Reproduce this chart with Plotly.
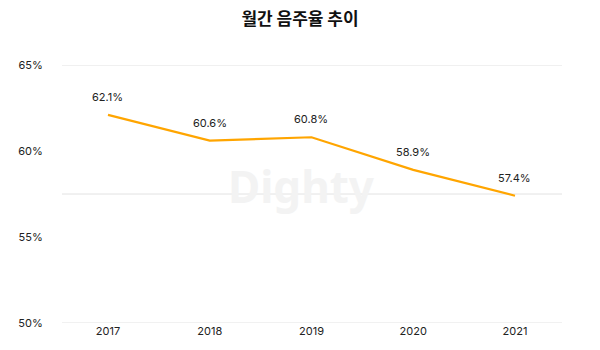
import plotly.graph_objects as go

years = ["2017", "2018", "2019", "2020", "2021"]
rates = [62.1, 60.6, 60.8, 58.9, 57.4]
rate_labels = ["62.1%", "60.6%", "60.8%", "58.9%", "57.4%"]
y_ticks = [50, 55, 60, 65]
y_tick_text = ["50%", "55%", "60%", "65%"]
grid_levels = [50, 57.5, 65]

font_family = "Inter, Liberation Sans, Arial, sans-serif"

fig = go.Figure()
fig.add_trace(go.Scatter(
    x=list(range(len(years))), y=rates, mode="lines",
    line=dict(color="#FFA500", width=2.2),
    hoverinfo="skip", showlegend=False,
))

for i, (v, t) in enumerate(zip(rates, rate_labels)):
    fig.add_annotation(x=i, y=v, text=t, showarrow=False, yshift=18,
                       font=dict(size=11, color="#222", family=font_family))

for g in grid_levels:
    fig.add_shape(type="line", xref="paper", x0=0, x1=1, yref="y", y0=g, y1=g,
                  line=dict(color="#e2e2e2", width=1), layer="below")

fig.add_annotation(xref="paper", yref="paper", x=0.478, y=0.53, text="<b>Dighty</b>",
                   showarrow=False,
                   font=dict(size=44, color="#f3f3f3", family="Noto Sans, sans-serif"))

fig.update_layout(
    width=600, height=350,
    margin=dict(l=62, r=38, t=65, b=27),
    paper_bgcolor="white", plot_bgcolor="white",
    title=dict(text="<b>월간 음주율 추이</b>", x=0.5, xanchor="center", y=0.945, yanchor="middle",
               font=dict(size=17, color="#111", family="Noto Sans CJK KR, sans-serif")),
    xaxis=dict(tickmode="array", tickvals=list(range(len(years))), ticktext=years,
               range=[-0.452, 4.462], showgrid=False, zeroline=False, showline=False,
               ticks="", tickfont=dict(size=11, color="#222", family=font_family)),
    yaxis=dict(range=[50, 65], tickvals=y_ticks, ticktext=y_tick_text,
               showgrid=False, zeroline=False, showline=False, ticks="outside",
               ticklen=16, tickcolor="rgba(0,0,0,0)",
               tickfont=dict(size=11, color="#222", family=font_family)),
)

fig.write_html("out.html")
